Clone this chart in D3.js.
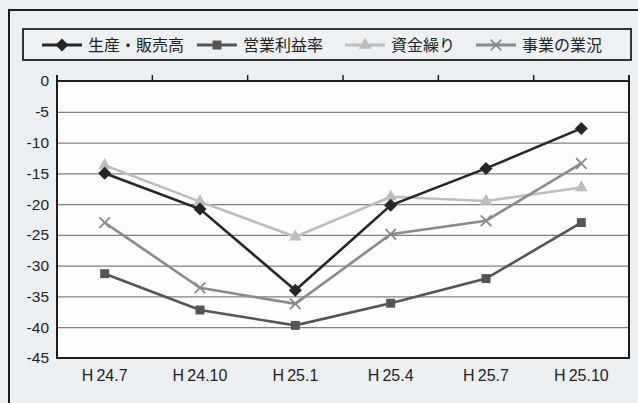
<!DOCTYPE html>
<html>
<head>
<meta charset="utf-8">
<script src="https://cdn.jsdelivr.net/npm/d3@7"></script>
<style>
  body { margin: 0; background: #eceff1; }
  svg { display: block; }
  text { font-family: "Liberation Sans", Arial, sans-serif; fill: #222; }
  .legend text { font-family: "Noto Sans CJK JP", sans-serif; font-size: 16px; }
</style>
</head>
<body>
<script>
// categories and series
var periods = ["H24.7", "H24.10", "H25.1", "H25.4", "H25.7", "H25.10"];
var salesValues   = [-15.0, -20.8, -34.0, -20.2, -14.2, -7.7];   // 生産・販売高
var profitValues  = [-31.3, -37.2, -39.7, -36.1, -32.1, -23.0];  // 営業利益率
var fundsValues   = [-13.7, -19.6, -25.3, -18.8, -19.5, -17.3];  // 資金繰り
var businessValues = [-23.0, -33.6, -36.2, -24.9, -22.7, -13.4]; // 事業の業況
var yTicks = [0, -5, -10, -15, -20, -25, -30, -35, -40, -45];

var series = [
  {name: "生産・販売高", values: salesValues,   color: "#262626", symbol: d3.symbolSquare,   size: 85, rotate: 45, stroke: false},
  {name: "営業利益率",   values: profitValues,  color: "#555555", symbol: d3.symbolSquare,   size: 80, rotate: 0,  stroke: false},
  {name: "資金繰り",     values: fundsValues,   color: "#bdbdbd", symbol: d3.symbolTriangle, size: 70, rotate: 0,  stroke: false},
  {name: "事業の業況",   values: businessValues, color: "#8a8a8a", symbol: d3.symbolX,       size: 75, rotate: 0,  stroke: true}
];

var width = 638,
    height = 403;

var plot = {left: 57, right: 629, top: 81, bottom: 358};

var svg = d3.select("body").append("svg")
    .attr("width", width)
    .attr("height", height);

// scan-ish background + outer frame
svg.append("rect")
    .attr("width", width).attr("height", height)
    .attr("fill", "#eceff1");
svg.append("rect")
    .attr("x", 9).attr("y", 10)
    .attr("width", 660).attr("height", 420)
    .attr("fill", "none")
    .attr("stroke", "#1e1e1e")
    .attr("stroke-width", 2);

var x = d3.scaleBand()
    .domain(periods)
    .range([plot.left, plot.right])
    .padding(0);

var y = d3.scaleLinear()
    .domain([-45, 0])
    .range([plot.bottom, plot.top]);

// plot area
svg.append("rect")
    .attr("x", plot.left).attr("y", plot.top)
    .attr("width", plot.right - plot.left)
    .attr("height", plot.bottom - plot.top)
    .attr("fill", "#fdfdfd");

// gridlines
svg.append("g")
    .attr("transform", "translate(" + plot.left + ",0)")
    .call(d3.axisLeft(y)
      .tickValues(yTicks.filter(function(d){ return d < 0 && d > -45 }))
      .tickSize(-(plot.right - plot.left))
      .tickFormat(""))
    .call(function(g){ g.select(".domain").remove() })
    .selectAll("line")
    .attr("stroke", "#808080")
    .attr("stroke-width", 1.3);

// y labels
svg.append("g")
    .attr("transform", "translate(" + plot.left + ",0)")
    .call(d3.axisLeft(y)
      .tickValues(yTicks)
      .tickSize(0)
      .tickPadding(8)
      .tickFormat(function(d){ return String(d) }))
    .call(function(g){ g.select(".domain").remove() })
    .selectAll("text")
    .style("font-size", "15.5px")
    .attr("fill", "#222");

// x labels at the bottom ("H 24.7" style with a small gap after H)
svg.append("g")
    .attr("transform", "translate(0," + plot.bottom + ")")
    .call(d3.axisBottom(x).tickSize(0).tickPadding(12)
      .tickFormat(function(d){ return "H\u2009" + d.slice(1) }))
    .call(function(g){ g.select(".domain").remove() })
    .selectAll("text")
    .style("font-size", "16px")
    .attr("fill", "#222");

// top axis (value 0) with category boundary ticks
var bounds = periods.map(function(p){ return x(p) }).concat([x.range()[1]]);
svg.append("g").selectAll("line")
    .data(bounds)
  .enter().append("line")
    .attr("x1", function(d){ return d })
    .attr("x2", function(d){ return d })
    .attr("y1", y(0) - 6)
    .attr("y2", y(0))
    .attr("stroke", "#1e1e1e")
    .attr("stroke-width", 1.5);

// plot border
svg.append("path")
    .attr("d", "M" + plot.left + "," + (plot.top - 6) +
               "V" + plot.bottom + "H" + plot.right + "V" + (plot.top - 6))
    .attr("fill", "none")
    .attr("stroke", "#1e1e1e")
    .attr("stroke-width", 2);
svg.append("line")
    .attr("x1", plot.left).attr("x2", plot.right)
    .attr("y1", y(0)).attr("y2", y(0))
    .attr("stroke", "#1e1e1e")
    .attr("stroke-width", 1.8);

// series lines
var line = d3.line()
    .x(function(d, i){ return x(periods[i]) + x.bandwidth() / 2 })
    .y(function(d){ return y(d) });

function markerPath(s){
  return d3.symbol().type(s.symbol).size(s.size)();
}

// draw lighter lines first so dark ones sit on top
var order = [2, 3, 1, 0];
order.forEach(function(k){
  var s = series[k];
  var g = svg.append("g");
  g.append("path")
    .datum(s.values)
    .attr("d", line)
    .attr("fill", "none")
    .attr("stroke", s.color)
    .attr("stroke-width", 2.6);
  g.selectAll("path.mark")
    .data(s.values)
  .enter().append("path")
    .attr("class", "mark")
    .attr("transform", function(d, i){
      return "translate(" + (x(periods[i]) + x.bandwidth() / 2) + "," + y(d) + ") rotate(" + s.rotate + ")"
    })
    .attr("d", markerPath(s))
    .attr("fill", s.stroke ? "none" : s.color)
    .attr("stroke", s.color)
    .attr("stroke-width", s.stroke ? 1.8 : 0);
});

// legend
var legend = svg.append("g").attr("class", "legend");
legend.append("rect")
    .attr("x", 23).attr("y", 29)
    .attr("width", 608).attr("height", 31)
    .attr("fill", "#eef1f3")
    .attr("stroke", "#1e1e1e")
    .attr("stroke-width", 1.8);

var legendX = [42, 197, 345, 476];
var item = legend.selectAll("g.item")
    .data(series)
  .enter().append("g")
    .attr("class", "item")
    .attr("transform", function(d, i){ return "translate(" + legendX[i] + ",45)" });

item.append("line")
    .attr("x1", 0).attr("x2", 40)
    .attr("stroke", function(d){ return d.color })
    .attr("stroke-width", 2.8);
item.append("path")
    .attr("transform", function(d){ return "translate(20,0) rotate(" + d.rotate + ")" })
    .attr("d", markerPath)
    .attr("fill", function(d){ return d.stroke ? "none" : d.color })
    .attr("stroke", function(d){ return d.color })
    .attr("stroke-width", function(d){ return d.stroke ? 1.8 : 0 });
item.append("text")
    .attr("x", 46)
    .attr("dy", "0.36em")
    .attr("fill", "#2a2a2a")
    .text(function(d){ return d.name });
</script>
</body>
</html>
